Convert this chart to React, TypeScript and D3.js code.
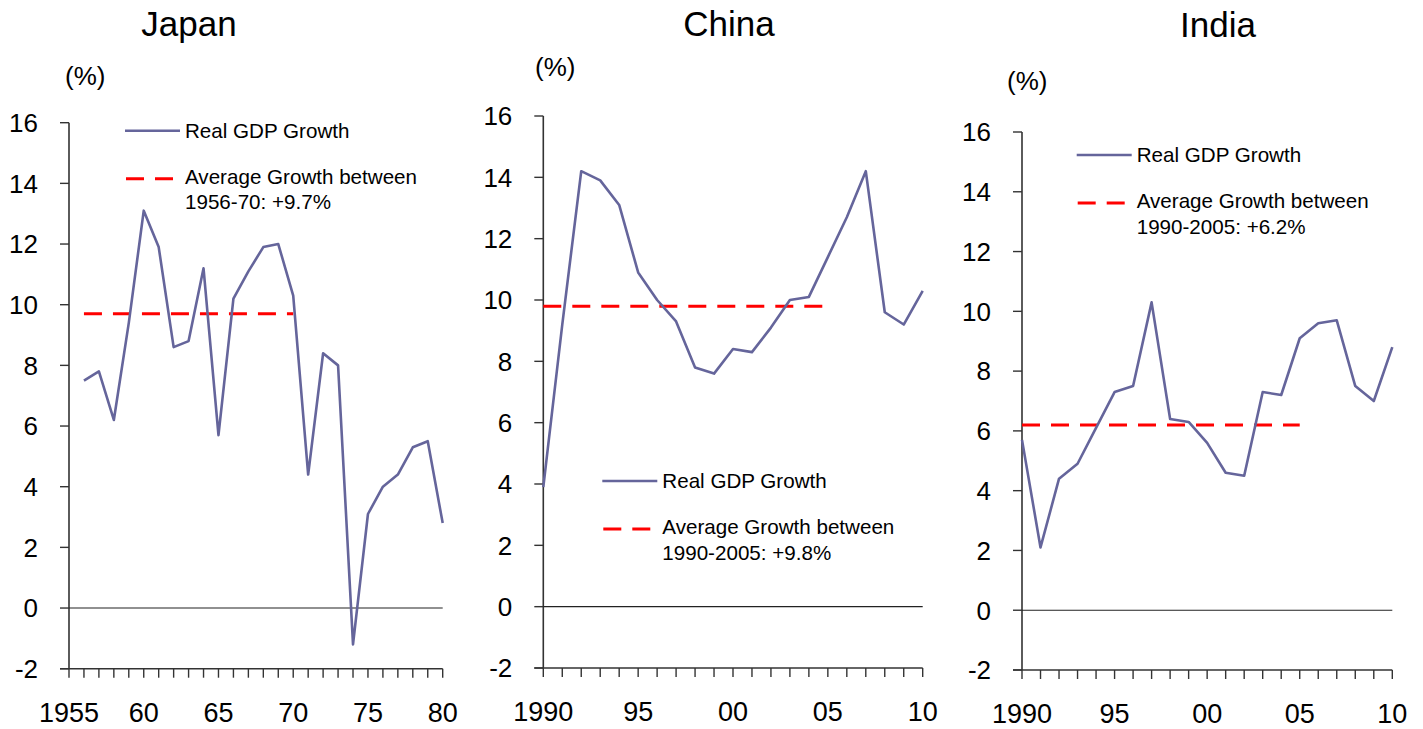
import * as d3 from 'd3';

// Real GDP growth, %
const japanYears = [
  1956, 1957, 1958, 1959, 1960, 1961, 1962, 1963, 1964, 1965, 1966, 1967, 1968,
  1969, 1970, 1971, 1972, 1973, 1974, 1975, 1976, 1977, 1978, 1979, 1980,
];
const japanGrowth = [
  7.5, 7.8, 6.2, 9.4, 13.1, 11.9, 8.6, 8.8, 11.2, 5.7, 10.2, 11.1, 11.9, 12.0,
  10.3, 4.4, 8.4, 8.0, -1.2, 3.1, 4.0, 4.4, 5.3, 5.5, 2.8,
];

const modernYears = [
  1990, 1991, 1992, 1993, 1994, 1995, 1996, 1997, 1998, 1999, 2000, 2001, 2002,
  2003, 2004, 2005, 2006, 2007, 2008, 2009, 2010,
];
const chinaGrowth = [
  3.9, 9.2, 14.2, 13.9, 13.1, 10.9, 10.0, 9.3, 7.8, 7.6, 8.4, 8.3, 9.1, 10.0,
  10.1, 11.4, 12.7, 14.2, 9.6, 9.2, 10.3,
];
const indiaGrowth = [
  5.7, 2.1, 4.4, 4.9, 6.1, 7.3, 7.5, 10.3, 6.4, 6.3, 5.6, 4.6, 4.5, 7.3, 7.2,
  9.1, 9.6, 9.7, 7.5, 7.0, 8.8,
];

// average growth lines: [value, fromYear, toYear]
const japanAverage = [9.7, 1956, 1970];
const chinaAverage = [9.8, 1990, 2005];
const indiaAverage = [6.2, 1990, 2005];

const yTicks = [-2, 0, 2, 4, 6, 8, 10, 12, 14, 16];
const japanXLabels = [1955, 1960, 1965, 1970, 1975, 1980];
const modernXLabels = [1990, 1995, 2000, 2005, 2010];

const seriesLabel = 'Real GDP Growth';
const japanAvgLabel = ['Average Growth between', '1956-70: +9.7%'];
const chinaAvgLabel = ['Average Growth between', '1990-2005: +9.8%'];
const indiaAvgLabel = ['Average Growth between', '1990-2005: +6.2%'];

const FONT = '"Liberation Sans", Arial, sans-serif';
const LINE_COLOR = '#65659b';
const AXIS_COLOR = '#333';

interface PanelProps {
  title: string;
  years: number[];
  values: number[];
  average: number[];
  avgLabel: string[];
  xDomain: [number, number];
  xLabels: number[];
  left: number;
  right: number;
  top: number;
  bottom: number;
  titleX: number;
  titleY: number;
  unitX: number;
  unitY: number;
  legendX: number;
  legendY: number;
}

const fmtYear = (y: number, i: number) => (i === 0 ? String(y) : String(y).slice(2));

const Panel = (p: PanelProps) => {
  const x = d3.scaleLinear().domain(p.xDomain).range([p.left, p.right]);
  const y = d3.scaleLinear().domain([-2, 16]).range([p.bottom, p.top]);
  const allYears = d3.range(p.xDomain[0], p.xDomain[1] + 1);

  const line = d3
    .line<number>()
    .x((_d, i) => x(p.years[i]))
    .y((d) => y(d));

  const [avg, avgFrom, avgTo] = p.average;

  return (
    <g>
      <text x={p.titleX} y={p.titleY} textAnchor="middle" fontSize={35} fill="#000">
        {p.title}
      </text>
      <text x={p.unitX} y={p.unitY} fontSize={26} fill="#000">
        (%)
      </text>

      {/* y axis */}
      <line x1={p.left} x2={p.left} y1={p.top} y2={p.bottom} stroke={AXIS_COLOR} strokeWidth={1.6} />
      {yTicks.map((t) => (
        <g key={t}>
          <line x1={p.left - 9} x2={p.left} y1={y(t)} y2={y(t)} stroke={AXIS_COLOR} strokeWidth={1.4} />
          <text x={p.left - 31} y={y(t)} dy="0.36em" textAnchor="end" fontSize={26} fill="#000">
            {t}
          </text>
        </g>
      ))}

      {/* x axis */}
      <line x1={p.left - 9} x2={p.right} y1={p.bottom} y2={p.bottom} stroke={AXIS_COLOR} strokeWidth={1.6} />
      {allYears.map((yr) => (
        <line key={yr} x1={x(yr)} x2={x(yr)} y1={p.bottom} y2={p.bottom + 9} stroke={AXIS_COLOR} strokeWidth={1.4} />
      ))}
      {p.xLabels.map((yr, i) => (
        <text key={yr} x={x(yr)} y={p.bottom + 53} textAnchor="middle" fontSize={27} fill="#000">
          {fmtYear(yr, i)}
        </text>
      ))}

      {/* zero line */}
      <line x1={p.left} x2={p.right} y1={y(0)} y2={y(0)} stroke="#222" strokeWidth={1.1} />

      {/* average */}
      <line
        x1={x(avgFrom)}
        x2={x(avgTo)}
        y1={y(avg)}
        y2={y(avg)}
        stroke="#ff0000"
        strokeWidth={3}
        strokeDasharray="18 11"
      />

      {/* series */}
      <path d={line(p.values) ?? ''} fill="none" stroke={LINE_COLOR} strokeWidth={2.6} strokeLinejoin="round" />

      {/* legend */}
      <g transform={`translate(${p.legendX},${p.legendY})`}>
        <line x1={0} x2={55} y1={0} y2={0} stroke={LINE_COLOR} strokeWidth={2.6} />
        <text x={60} y={0} dy="0.35em" fontSize={20.6} fill="#000">
          {seriesLabel}
        </text>
        <line x1={1} x2={49} y1={48} y2={48} stroke="#ff0000" strokeWidth={3} strokeDasharray="18 11" />
        <text x={60} y={53} fontSize={20.6} fill="#000">
          {p.avgLabel[0]}
        </text>
        <text x={60} y={78.5} fontSize={20.6} fill="#000">
          {p.avgLabel[1]}
        </text>
      </g>
    </g>
  );
};

export default function App() {
  return (
    <svg
      width={1423}
      height={729}
      style={{ position: 'absolute', left: 0, top: 0, background: '#fff' }}
      fontFamily={FONT}
    >
      <rect width={1423} height={729} fill="#fff" />
      <Panel
        title="Japan"
        years={japanYears}
        values={japanGrowth}
        average={japanAverage}
        avgLabel={japanAvgLabel}
        xDomain={[1955, 1980]}
        xLabels={japanXLabels}
        left={69}
        right={442.7}
        top={122.7}
        bottom={668.7}
        titleX={189}
        titleY={36}
        unitX={65}
        unitY={85}
        legendX={125}
        legendY={130.7}
      />
      <Panel
        title="China"
        years={modernYears}
        values={chinaGrowth}
        average={chinaAverage}
        avgLabel={chinaAvgLabel}
        xDomain={[1990, 2010]}
        xLabels={modernXLabels}
        left={543.3}
        right={922.7}
        top={116}
        bottom={668}
        titleX={729}
        titleY={36}
        unitX={535}
        unitY={76}
        legendX={602.3}
        legendY={481}
      />
      <Panel
        title="India"
        years={modernYears}
        values={indiaGrowth}
        average={indiaAverage}
        avgLabel={indiaAvgLabel}
        xDomain={[1990, 2010]}
        xLabels={modernXLabels}
        left={1022}
        right={1392.3}
        top={132}
        bottom={670}
        titleX={1218}
        titleY={37}
        unitX={1007}
        unitY={90}
        legendX={1076.7}
        legendY={155}
      />
    </svg>
  );
}
